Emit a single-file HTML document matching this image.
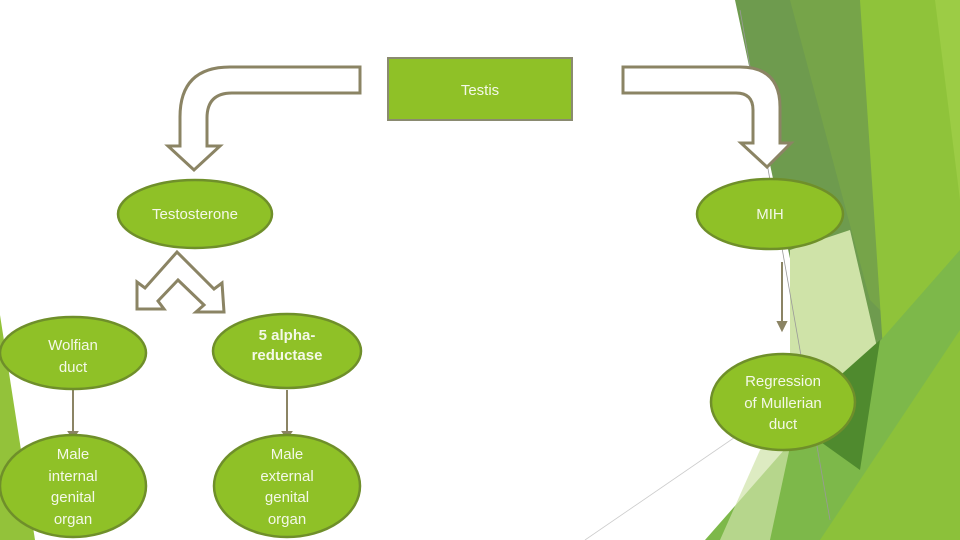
<!DOCTYPE html>
<html><head><meta charset="utf-8"><style>
html,body{margin:0;padding:0;background:#fff}
svg{display:block}
text{font-family:"Liberation Sans",sans-serif;fill:#f4f8e8;font-size:15px;text-anchor:middle}
</style></head><body>
<svg width="960" height="540" viewBox="0 0 960 540" xmlns="http://www.w3.org/2000/svg">
<!-- background decoration -->
<polygon points="0,315 35,540 0,540" fill="#93c23a"/>
<polygon points="735,0 870,0 905,330 880,420 835,470" fill="#6e9b4e"/>
<polygon points="790,0 870,0 900,330 870,300" fill="#76a449"/>
<polygon points="860,0 960,0 960,540 840,540 885,380" fill="#8fc33a"/>
<polygon points="935,0 960,0 960,200" fill="#9ccc45"/>
<polygon points="790,250 850,230 880,360 840,440 790,400" fill="#cfe3a8"/>
<polygon points="705,540 960,250 960,540" fill="#7db84a"/>
<polygon points="790,420 880,340 860,470" fill="#4f8a2e"/>
<polygon points="820,540 960,330 960,540" fill="#8cc13a"/>
<polygon points="760,450 800,400 770,540 720,540" fill="#cfe3a8" opacity="0.7"/>
<line x1="740" y1="10" x2="830" y2="520" stroke="#999" stroke-width="0.8"/>
<line x1="585" y1="540" x2="760" y2="420" stroke="#ccc" stroke-width="0.8"/>
<!-- Testis -->
<rect x="388" y="58" width="184" height="62" fill="#8fc127" stroke="#8a8a70" stroke-width="2"/>
<text x="480" y="95">Testis</text>
<!-- bent arrows -->
<path d="M360,67 L230,67 Q180,67 180,117 L180,146 L168,146 L194,170 L220,146 L207,146 L207,118 Q207,93 232,93 L360,93 Z" fill="#fff" stroke="#8b8464" stroke-width="3"/>
<path d="M623,67 L740,67 Q780,67 780,107 L780,143 L791,143 L767,167 L741,143 L753,143 L753,110 Q753,93 736,93 L623,93 Z" fill="#fff" stroke="#8b8464" stroke-width="3"/>
<!-- double arrow -->
<polygon points="177,252 214,289 222,283 224,312 196,312 204,305 178,280 158,301 164,309 137,309 137,282 145,288" fill="#fff" stroke="#8b8464" stroke-width="3"/>
<!-- connectors -->
<g stroke="#8b8464" stroke-width="2" fill="#8b8464">
<line x1="73" y1="390" x2="73" y2="432"/><polygon points="69,432 77,432 73,438"/>
<line x1="287" y1="390" x2="287" y2="432"/><polygon points="283,432 291,432 287,438"/>
<line x1="782" y1="262" x2="782" y2="322"/><polygon points="778,322 786,322 782,330"/>
</g>
<!-- ellipses -->
<g fill="#8fc127" stroke="#6f8f2a" stroke-width="2.5">
<ellipse cx="195" cy="214" rx="77" ry="34"/>
<ellipse cx="770" cy="214" rx="73" ry="35"/>
<ellipse cx="73" cy="353" rx="73" ry="36"/>
<ellipse cx="287" cy="351" rx="74" ry="37"/>
<ellipse cx="783" cy="402" rx="72" ry="48"/>
<ellipse cx="73" cy="486" rx="73" ry="51"/>
<ellipse cx="287" cy="486" rx="73" ry="51"/>
</g>
<text x="195" y="219">Testosterone</text>
<text x="770" y="219">MIH</text>
<text x="73" y="350">Wolfian</text><text x="73" y="372">duct</text>
<text x="287" y="340" style="font-weight:bold">5 alpha-</text><text x="287" y="360" style="font-weight:bold">reductase</text>
<text x="783" y="386">Regression</text><text x="783" y="408">of Mullerian</text><text x="783" y="429">duct</text>
<text x="73" y="459">Male</text><text x="73" y="481">internal</text><text x="73" y="502">genital</text><text x="73" y="524">organ</text>
<text x="287" y="459">Male</text><text x="287" y="481">external</text><text x="287" y="502">genital</text><text x="287" y="524">organ</text>
</svg>
</body></html>
